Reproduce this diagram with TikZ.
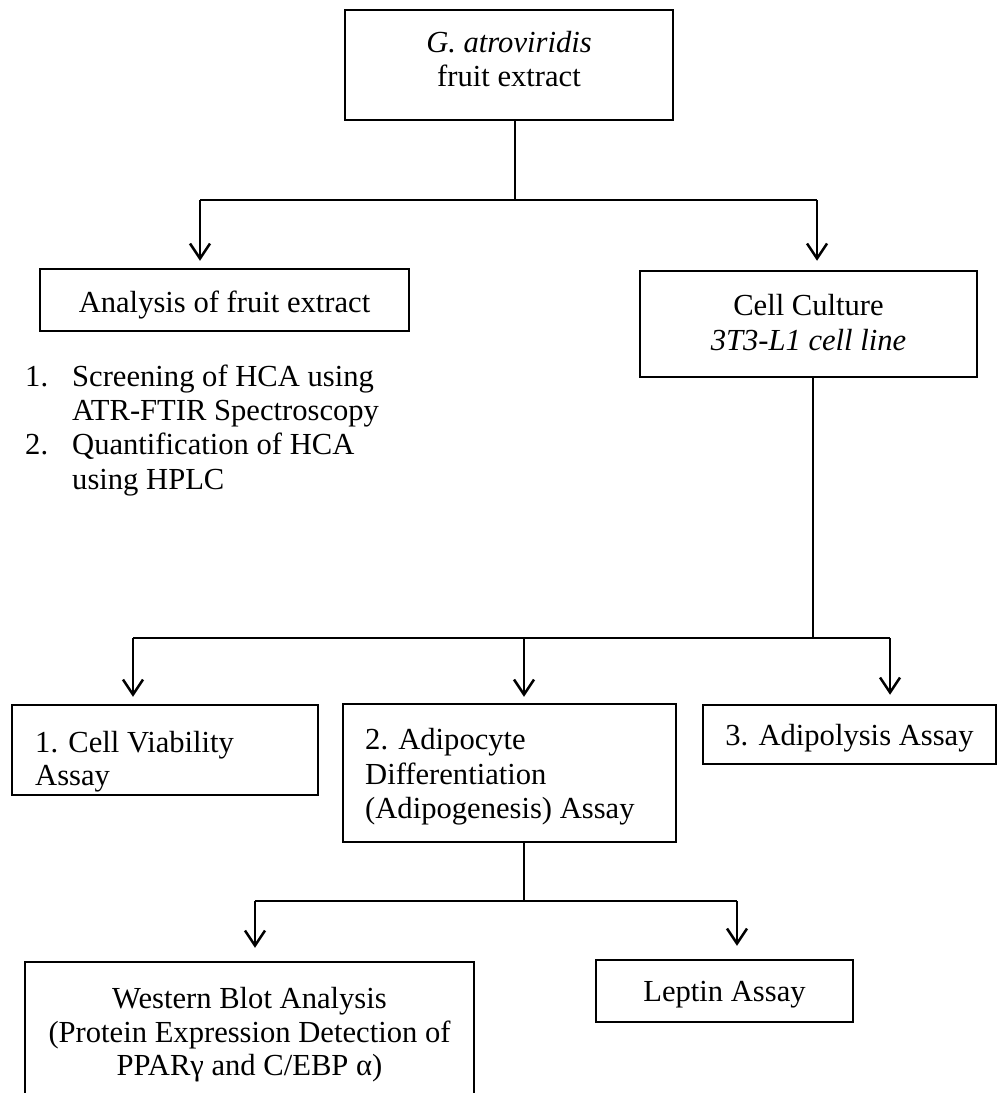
\documentclass[tikz,border=0pt]{standalone}
\usepackage{fontspec}
\setmainfont{Liberation Serif}
\usetikzlibrary{arrows.meta}
\tikzset{
  box/.style={draw=black, line width=2.5pt, rectangle, inner sep=0pt},
  txt/.style={inner sep=0pt, font=\fontsize{30.6}{34.5}\selectfont},
  conn/.style={draw=black, line width=2.5pt},
  arr/.style={conn, -{Straight Barb[length=15pt,width=20pt]}},
}
\begin{document}
\begin{tikzpicture}[x=1pt,y=-1pt]
\useasboundingbox (0,0) rectangle (998,1093);
\clip (0,0) rectangle (998,1093);
% boxes
\node[box, minimum width=328pt, minimum height=110pt] (topbox) at (509,65) {};
\node[box, minimum width=369pt, minimum height=62pt] (anabox) at (224.5,300) {};
\node[box, minimum width=337pt, minimum height=106pt] (cellbox) at (808.5,324) {};
\node[box, minimum width=306pt, minimum height=90pt] (viab) at (165,750) {};
\node[box, minimum width=333pt, minimum height=138pt] (adipo) at (509.5,773) {};
\node[box, minimum width=293pt, minimum height=59pt] (lysis) at (849.5,734.5) {};
\node[box, minimum width=449pt, minimum height=153pt] (western) at (249.5,1038.5) {};
\node[box, minimum width=257pt, minimum height=62pt] (leptin) at (724.5,991) {};
% texts
\node[txt, anchor=base] (t1) at (509,52) {\itshape G. atroviridis};
\node[txt, anchor=base] (t2) at (509,86) {fruit extract};
\node[txt, anchor=base] (t3) at (224.5,312) {Analysis of fruit extract};
\node[txt, anchor=base west] (n1) at (25,386) {1.};
\node[txt, anchor=base west] (l1) at (72,386) {Screening of HCA using};
\node[txt, anchor=base west] (l2) at (72,420) {ATR-FTIR Spectroscopy};
\node[txt, anchor=base west] (n2) at (25,454) {2.};
\node[txt, anchor=base west] (l3) at (72,454) {Quantification of HCA};
\node[txt, anchor=base west] (l4) at (72,489) {using HPLC};
\node[txt, anchor=base] (c1) at (808.5,315) {Cell Culture};
\node[txt, anchor=base] (c2) at (808.5,350) {\itshape 3T3-L1 cell line};
\node[txt, anchor=base west] (v1) at (35,752) {1. Cell Viability};
\node[txt, anchor=base west] (v2) at (35,785) {Assay};
\node[txt, anchor=base west] (a1) at (365,749) {2. Adipocyte};
\node[txt, anchor=base west] (a2) at (365,784) {Differentiation};
\node[txt, anchor=base west] (a3) at (365,818) {(Adipogenesis) Assay};
\node[txt, anchor=base] (p1) at (849.5,745) {3. Adipolysis Assay};
\node[txt, anchor=base] (w1) at (249.5,1008) {Western Blot Analysis};
\node[txt, anchor=base] (w2) at (249.5,1042) {(Protein Expression Detection of};
\node[txt, anchor=base] (w3) at (249.5,1075) {PPAR\symbol{"03B3} and C/EBP \symbol{"03B1})};
\node[txt, anchor=base] (le) at (724.5,1001) {Leptin Assay};
% junctions
\coordinate (h1) at (515,200);
\coordinate (h1l) at (200,200);
\coordinate (h1r) at (817,200);
\coordinate (h2) at (813,638);
\coordinate (h2l) at (133,638);
\coordinate (h2m) at (524,638);
\coordinate (h2r) at (890,638);
\coordinate (h3) at (524,901);
\coordinate (h3l) at (255,901);
\coordinate (h3r) at (737,901);
% connectors
\draw[conn] (topbox.south -| h1) -- (h1);
\draw[conn] (h1l) -- (h1r);
\draw[arr, shorten >=7pt] (h1l) -- (h1l |- anabox.north);
\draw[arr, shorten >=9pt] (h1r) -- (h1r |- cellbox.north);
\draw[conn] (cellbox.south -| h2) -- (h2);
\draw[conn] (h2l) -- (h2r);
\draw[arr, shorten >=7pt] (h2l) -- (h2l |- viab.north);
\draw[arr, shorten >=6pt] (h2m) -- (h2m |- adipo.north);
\draw[arr, shorten >=9pt] (h2r) -- (h2r |- lysis.north);
\draw[conn] (adipo.south -| h3) -- (h3);
\draw[conn] (h3l) -- (h3r);
\draw[arr, shorten >=13pt] (h3l) -- (h3l |- western.north);
\draw[arr, shorten >=13pt] (h3r) -- (h3r |- leptin.north);
\end{tikzpicture}
\end{document}
